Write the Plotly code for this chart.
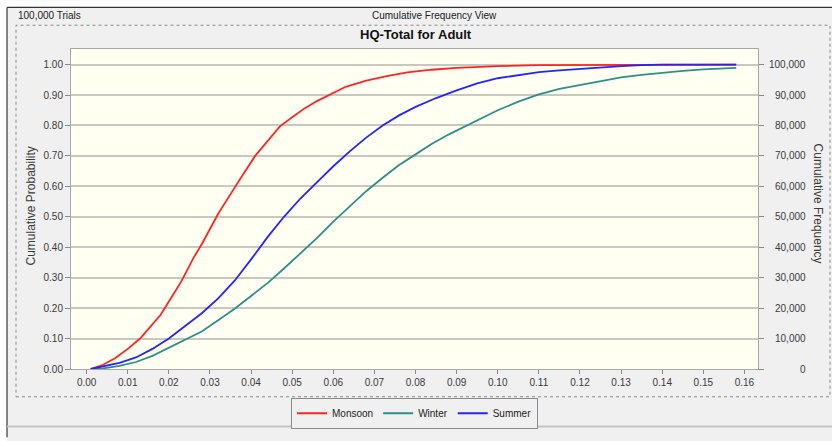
import plotly.graph_objects as go

# Cumulative probability curves for the three seasons
monsoon_x = [0.001, 0.004, 0.007, 0.010, 0.013, 0.016, 0.018, 0.020, 0.023, 0.026, 0.028,
             0.030, 0.032, 0.034, 0.036, 0.038, 0.041, 0.044, 0.047, 0.050, 0.053, 0.056,
             0.059, 0.063, 0.068, 0.073, 0.078, 0.084, 0.090, 0.100, 0.110, 0.125, 0.140, 0.158]
monsoon_y = [0.000, 0.014, 0.036, 0.066, 0.100, 0.145, 0.178, 0.222, 0.287, 0.365, 0.410,
             0.460, 0.510, 0.553, 0.597, 0.638, 0.700, 0.750, 0.797, 0.827, 0.856, 0.880,
             0.901, 0.927, 0.947, 0.962, 0.974, 0.983, 0.989, 0.995, 0.998, 0.999, 1.000, 1.000]

winter_x = [0.001, 0.004, 0.008, 0.012, 0.016, 0.020, 0.024, 0.028, 0.032, 0.036, 0.040,
            0.044, 0.048, 0.052, 0.056, 0.060, 0.064, 0.068, 0.072, 0.076, 0.080, 0.084,
            0.088, 0.092, 0.096, 0.100, 0.105, 0.110, 0.115, 0.120, 0.125, 0.130, 0.135,
            0.140, 0.145, 0.150, 0.155, 0.158]
winter_y = [0.000, 0.002, 0.010, 0.023, 0.043, 0.070, 0.095, 0.123, 0.160, 0.198, 0.240,
            0.282, 0.330, 0.380, 0.430, 0.484, 0.535, 0.584, 0.628, 0.670, 0.705, 0.740,
            0.770, 0.797, 0.822, 0.850, 0.878, 0.902, 0.920, 0.933, 0.946, 0.958, 0.966,
            0.973, 0.979, 0.984, 0.987, 0.989]

summer_x = [0.001, 0.004, 0.008, 0.012, 0.016, 0.020, 0.024, 0.028, 0.032, 0.036, 0.040,
            0.044, 0.048, 0.052, 0.056, 0.060, 0.064, 0.068, 0.072, 0.076, 0.080, 0.085,
            0.090, 0.095, 0.100, 0.105, 0.110, 0.115, 0.120, 0.125, 0.130, 0.135, 0.140, 0.158]
summer_y = [0.000, 0.008, 0.020, 0.038, 0.066, 0.100, 0.140, 0.183, 0.232, 0.290, 0.360,
            0.433, 0.500, 0.560, 0.613, 0.666, 0.715, 0.760, 0.800, 0.833, 0.861, 0.890,
            0.915, 0.938, 0.955, 0.966, 0.975, 0.981, 0.986, 0.991, 0.995, 0.998, 1.000, 1.000]

# Axis ticks
x_ticks = [i / 100 for i in range(0, 17)]
x_tick_labels = [f"{v:.2f}" for v in x_ticks]
prob_ticks = [i / 10 for i in range(0, 11)]
prob_tick_labels = [f"{v:.2f}" for v in prob_ticks]
freq_ticks = [i * 10000 for i in range(0, 11)]
freq_tick_labels = [f"{v:,}" for v in freq_ticks]

W, H = 832, 441
L, R, T, B = 71, 758, 49, 372  # plot area in pixels


def px(x):
    return (x - L) / (R - L)


def py(y):
    return (B - y) / (B - T)


FONT = "Liberation Sans, Arial, sans-serif"
TXT = "#3a3a3a"

fig = go.Figure()
fig.add_trace(go.Scatter(x=monsoon_x, y=monsoon_y, mode="lines", name="Monsoon",
                         line=dict(color="#FF2424", width=1.8)))
fig.add_trace(go.Scatter(x=winter_x, y=winter_y, mode="lines", name="Winter",
                         line=dict(color="#2E8F88", width=1.8)))
fig.add_trace(go.Scatter(x=summer_x, y=summer_y, mode="lines", name="Summer",
                         line=dict(color="#2424FF", width=1.8)))

shapes = [
    # white strip on top and left edge, dark frame lines
    dict(type="rect", xref="paper", yref="paper", x0=px(0), x1=px(7), y0=py(W), y1=py(0),
         fillcolor="white", line=dict(width=0), layer="below"),
    dict(type="rect", xref="paper", yref="paper", x0=px(0), x1=px(W), y0=py(7), y1=py(0),
         fillcolor="white", line=dict(width=0), layer="below"),
    dict(type="line", xref="paper", yref="paper", x0=px(7), x1=px(7), y0=py(7), y1=py(H),
         line=dict(color="#333333", width=1.2)),
    dict(type="line", xref="paper", yref="paper", x0=px(7), x1=px(W), y0=py(7), y1=py(7),
         line=dict(color="#333333", width=1.2)),
    # dotted chart panel
    dict(type="rect", xref="paper", yref="paper", x0=px(16), x1=px(830), y0=py(400), y1=py(25),
         line=dict(color="#8a8a8a", width=1, dash="dot")),
    # status separator near the bottom
    dict(type="line", xref="paper", yref="paper", x0=px(7), x1=px(W), y0=py(430), y1=py(430),
         line=dict(color="#c4c4c4", width=2)),
]

annotations = [
    dict(text="100,000 Trials", x=px(16), y=py(15), xref="paper", yref="paper",
         xanchor="left", yanchor="middle", showarrow=False,
         font=dict(family=FONT, size=10, color="#222222")),
    dict(text="Cumulative Frequency View", x=px(434), y=py(15), xref="paper", yref="paper",
         xanchor="center", yanchor="middle", showarrow=False,
         font=dict(family=FONT, size=10, color="#222222")),
    dict(text="<b>HQ-Total for Adult</b>", x=px(416), y=py(34), xref="paper", yref="paper",
         xanchor="center", yanchor="middle", showarrow=False,
         font=dict(family=FONT, size=13, color="#111111")),
    dict(text="Cumulative Probability", x=px(31), y=py(208), xref="paper", yref="paper",
         xanchor="center", yanchor="middle", textangle=-90, showarrow=False,
         font=dict(family=FONT, size=12, color=TXT)),
    dict(text="Cumulative Frequency", x=px(818), y=py(205), xref="paper", yref="paper",
         xanchor="center", yanchor="middle", textangle=90, showarrow=False,
         font=dict(family=FONT, size=12, color=TXT)),
]
# right-aligned labels for the frequency axis
for v, t in zip(freq_ticks, freq_tick_labels):
    annotations.append(dict(text=t, x=px(808), y=v, xref="paper", yref="y2",
                            xanchor="right", yanchor="middle", showarrow=False,
                            font=dict(family=FONT, size=10, color=TXT)))

y_top = (B - T) / (B - 64.7) * 1.0  # probability at the top of the plot area

fig.update_layout(
    width=W, height=H, autosize=False,
    margin=dict(l=L, r=W - R, t=T, b=H - B, pad=0),
    paper_bgcolor="#F0F0F0",
    plot_bgcolor="#FFFFF2",
    font=dict(family=FONT, size=10, color=TXT),
    showlegend=True,
    legend=dict(orientation="h", x=px(414.5), xanchor="center", y=py(401), yanchor="top",
                bgcolor="#F0F0F0", bordercolor="#8c8c8c", borderwidth=1,
                font=dict(family=FONT, size=10, color="#222222"),
                itemwidth=30, tracegroupgap=0),
    xaxis=dict(range=[-0.0038, 0.1633], tickvals=x_ticks, ticktext=x_tick_labels,
               showgrid=False, zeroline=False, showline=True, mirror=True,
               linecolor="#a8a8a8", linewidth=1, ticks="outside", ticklen=4,
               tickcolor="#8a8a8a", tickfont=dict(family=FONT, size=10, color=TXT)),
    yaxis=dict(range=[0, y_top], tickvals=prob_ticks, ticktext=prob_tick_labels,
               showgrid=True, gridcolor="#C8C7C0", gridwidth=2, zeroline=False,
               showline=True, mirror=True, linecolor="#a8a8a8", linewidth=1,
               ticks="outside", ticklen=5, tickcolor="#8a8a8a",
               tickfont=dict(family=FONT, size=10, color=TXT)),
    yaxis2=dict(range=[0, y_top * 100000], overlaying="y", side="right",
                tickvals=freq_ticks, showticklabels=False, showgrid=False,
                zeroline=False, ticks="outside", ticklen=5, tickcolor="#8a8a8a"),
    shapes=shapes,
    annotations=annotations,
)

fig.write_html("out.html")
